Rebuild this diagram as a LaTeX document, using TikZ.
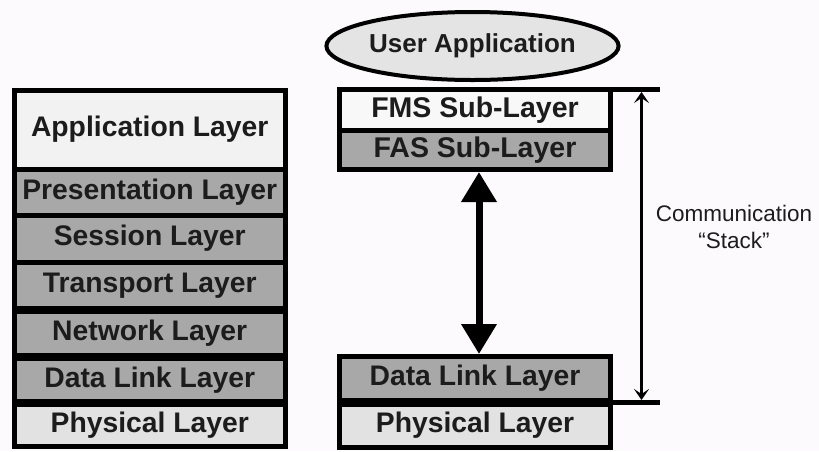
\documentclass[tikz,border=0pt]{standalone}
\usepackage{fontspec}
\setmainfont{Liberation Sans}
\usetikzlibrary{shapes.geometric,arrows.meta}
\definecolor{bgc}{RGB}{253,250,253}
\definecolor{lightbox}{RGB}{242,242,242}
\definecolor{graybox}{RGB}{168,168,168}
\definecolor{physbox}{RGB}{226,226,226}
\definecolor{whitebox}{RGB}{248,248,248}
\definecolor{ellfill}{RGB}{228,228,228}
\definecolor{txt}{RGB}{28,28,28}
\begin{document}
\begin{tikzpicture}[x=1pt,y=-1pt,
  lay/.style={draw=black,line width=5pt,rectangle,inner sep=0pt,outer sep=0pt,
    text=txt,font=\fontsize{28.3}{30}\selectfont\bfseries},
  leftlay/.style={lay,minimum width=270.5pt},
  rightlay/.style={lay,minimum width=271pt},
  sublay/.style={rightlay,font=\fontsize{28.5}{30}\selectfont\bfseries},
  conn/.style={line width=5pt,black},
  bigarrow/.style={line width=7pt,{Triangle[length=30pt,width=34pt]}-{Triangle[length=30pt,width=34pt]}},
  thinarrow/.style={line width=3.5pt,{Stealth[length=11pt,width=15pt,inset=5pt]}-{Stealth[length=11pt,width=15pt,inset=5pt]}}
]
\useasboundingbox (0,0) rectangle (819,451);
\fill[bgc] (0,0) rectangle (819,451);

% Left OSI stack
\node[leftlay,fill=lightbox,minimum height=79pt] (app) at (149.75,129.5) {Application Layer};
\node[leftlay,fill=graybox,minimum height=46pt] (pres) at (149.75,192) {Presentation Layer};
\node[leftlay,fill=graybox,minimum height=47pt] (sess) at (149.75,238.5) {Session Layer};
\node[leftlay,fill=graybox,minimum height=46.5pt] (trans) at (149.75,285.25) {Transport Layer};
\node[leftlay,fill=graybox,minimum height=44pt] (net) at (149.75,333.5) {Network Layer};
\node[leftlay,fill=graybox,minimum height=43pt] (dll) at (149.75,380) {Data Link Layer};
\node[leftlay,fill=physbox,minimum height=41.5pt] (phl) at (149.75,425.25) {Physical Layer};

% Right stack
\node[ellipse,draw=black,line width=4pt,fill=ellfill,minimum width=269pt,minimum height=68pt,inner sep=0pt,
  text=txt,font=\fontsize{26}{28}\selectfont\bfseries] (user) at (472.5,46) {User Application};
\node[sublay,fill=whitebox,minimum height=41pt] (fms) at (475,110) {FMS Sub-Layer};
\node[sublay,fill=graybox,minimum height=39pt] (fas) at (475,150) {FAS Sub-Layer};
\node[rightlay,fill=graybox,minimum height=43.5pt] (dlr) at (475,378.25) {Data Link Layer};
\node[rightlay,fill=physbox,minimum height=43pt] (phr) at (475,425.5) {Physical Layer};

% Bracket lines
\coordinate (topend) at (660,89.5);
\coordinate (botend) at (660,402);
\draw[conn] (fms.north east) -- (topend);
\draw[conn] (608,402) -- (botend);

% Arrows
\coordinate (ta) at (641.5,92);
\coordinate (tb) at (641.5,400);
\draw[thinarrow] (ta) -- (tb);
\draw[bigarrow] ([yshift=-2.5pt]fas.south -| 479,0) -- ([yshift=2.5pt]dlr.north -| 479,0);

\node[text=txt,font=\fontsize{22.5}{27}\selectfont,align=center] (comm) at (734,227) {Communication\\``Stack''};
\end{tikzpicture}
\end{document}
